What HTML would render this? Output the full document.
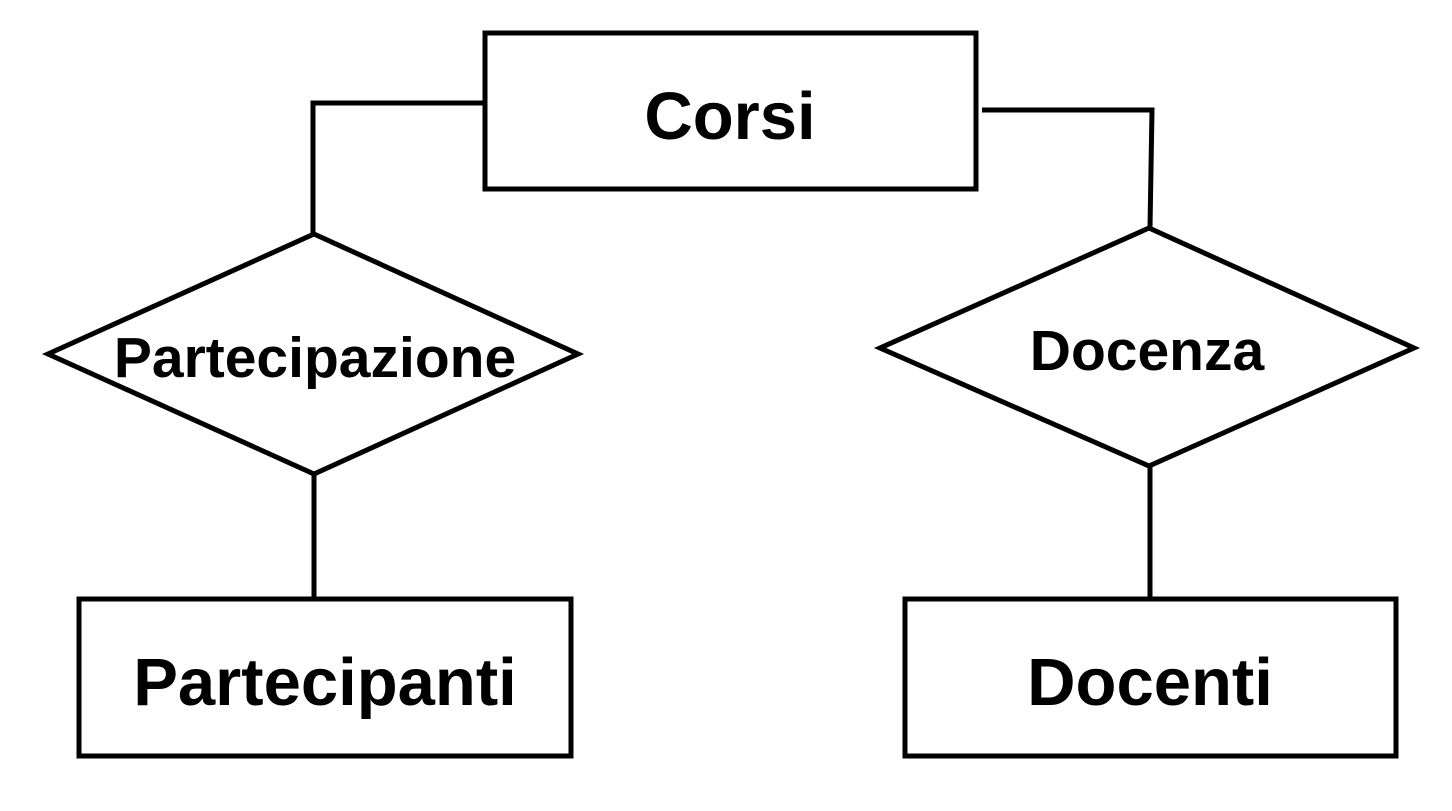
<!DOCTYPE html>
<html><head><style>
html,body{margin:0;padding:0;background:#fff;}
svg{display:block;}
text{font-family:"Liberation Sans",Arial,sans-serif;font-weight:bold;fill:#000;text-anchor:middle;}
</style></head><body>
<svg width="1452" height="811" viewBox="0 0 1452 811">
<g fill="none" stroke="#000" stroke-width="5">
<rect x="485" y="33" width="491" height="156"/>
<polyline points="485,103 313,103 313,234" stroke-linecap="square"/>
<polyline points="982,110 1152,110 1150,228"/>
<polygon points="48,354 314,234 578,354 314,474"/>
<polygon points="880,348 1149,228 1414,348 1149,466"/>
<line x1="314" y1="474" x2="314" y2="598"/>
<line x1="1150" y1="466" x2="1150" y2="599"/>
<rect x="79" y="599" width="492" height="157"/>
<rect x="905" y="599" width="491" height="157"/>
</g>
<text x="730" y="139" font-size="67">Corsi</text>
<text x="315" y="377" font-size="57">Partecipazione</text>
<text x="1147" y="370" font-size="57">Docenza</text>
<text x="325" y="705" font-size="67">Partecipanti</text>
<text x="1150" y="705" font-size="67">Docenti</text>
</svg>
</body></html>
